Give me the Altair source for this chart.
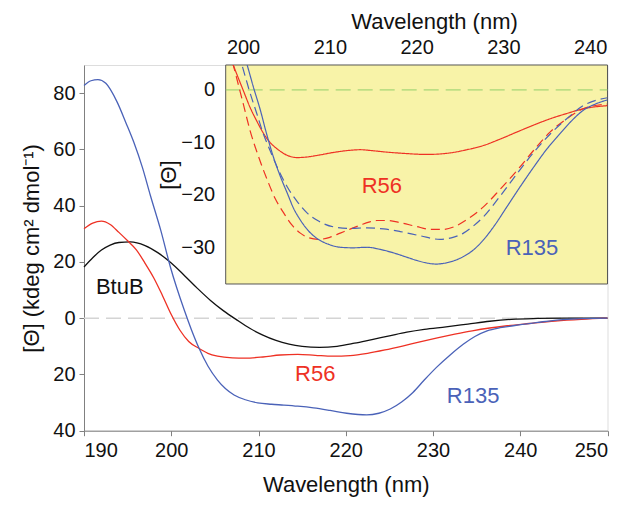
import altair as alt
import pandas as pd

FONT = "Liberation Sans"

# ---------------- main panel data ----------------
btub_wl = [190, 191, 192, 193, 194, 195.3, 197, 198.5, 200, 201.5, 203, 204.5, 206, 207.5, 209,
           210.5, 212, 213.5, 215, 217, 219, 221, 223, 225, 227, 229, 231.5, 234, 236.5, 239,
           242, 245, 250]
btub_val = [18.2, 21.5, 24.2, 26.0, 26.9, 27.1, 25.8, 23.2, 19.6, 15.2, 10.6, 6.3, 2.6, -0.6, -3.6,
            -6.0, -7.9, -9.2, -10.0, -10.4, -10.0, -8.9, -7.6, -6.3, -5.0, -4.0, -3.1, -2.1, -1.1, -0.4,
            -0.1, 0.0, 0.0]

r56_wl = [190, 191, 192, 193, 194, 195, 196, 197, 198, 199, 200, 201, 202, 203.2, 204.2, 205.3,
          207, 208.5, 210.5, 212.5, 214.5, 216.5, 218.5, 220.5, 222.5, 224.5, 226.5, 228.5, 230.5,
          232.5, 234.5, 236.5, 238.5, 241, 244, 247, 250]
r56_val = [31.8, 33.8, 34.5, 33.3, 30.5, 27.5, 24.3, 19.5, 14.3, 8.0, 1.3, -4.3, -8.3, -10.8, -12.5, -13.5,
           -14.1, -14.2, -13.8, -13.1, -12.9, -13.2, -13.5, -13.3, -12.5, -11.3, -9.9, -8.4, -7.0,
           -5.7, -4.5, -3.5, -2.7, -1.9, -1.0, -0.4, 0.0]

r135_wl = [190, 190.8, 191.6, 192.5, 193.8, 194.8, 195.7, 196.7, 197.6, 198.8, 199.9, 201.5, 202.3,
           203.2, 204.2, 205.3, 206.2, 207.2, 208.5, 209.9, 211.5, 212.9, 214.5, 216.3, 218.2, 220.1,
           222.4, 223.8, 225.1, 226.4, 227.7, 229, 230.4, 232, 233.5, 234.8, 236.2, 237.7, 239.2,
           242, 244.9, 250]
r135_val = [82.7, 84.4, 84.8, 83.5, 76.8, 69.5, 62.6, 53.5, 43.7, 31.2, 18.2, 2.8, -4.0,
            -10.8, -17.0, -22.0, -25.0, -27.3, -29.0, -30.1, -30.6, -30.9, -31.3, -31.9, -32.8, -33.8,
            -34.4, -33.8, -32.3, -29.8, -26.4, -22.0, -17.5, -13.0, -9.2, -6.5, -4.5, -3.4, -2.7,
            -1.5, -0.5, 0.0]

main_labels = ["BtuB", "R56", "R135"]
main_label_wl = [194.1, 216.5, 234.6]
main_label_val = [11.0, -19.9, -27.6]

# ---------------- inset data ----------------
i_r56s_wl = [198, 198.9, 200, 200.8, 201.6, 202.4, 203.1, 203.9, 205, 206.2, 207.3, 208.5, 210.5,
             212.4, 213.5, 215, 216.2, 218.5, 221.2, 223.9, 225.8, 227.7, 229.6, 231.6, 233.5,
             235.4, 237.3, 239.2, 242]
i_r56s_val = [8.5, 4.6, 0.0, -3.3, -6.0, -8.4, -10.0, -11.2, -12.4, -12.9, -12.8, -12.5, -11.9,
              -11.5, -11.4, -11.6, -11.8, -12.1, -12.3, -12.0, -11.4, -10.6, -9.4, -8.0, -6.7,
              -5.5, -4.5, -3.6, -3.0]

i_r56d_wl = [198, 198.9, 200, 200.8, 201.8, 202.8, 203.7, 204.7, 205.6, 206.6, 207.6, 208.7, 210,
             211.2, 212.4, 213.5, 214.5, 215.4, 216.7, 218.1, 219.9, 221.6, 223, 224.3, 226, 227.7,
             229.6, 231.6, 233.5, 235.4, 237.3, 239.2, 242]
i_r56d_val = [10.4, 4.6, -2.5, -7.7, -12.8, -17.2, -20.7, -23.5, -25.7, -27.3, -28.2, -28.5, -28.1,
              -27.3, -26.5, -25.8, -25.2, -24.9, -24.9, -25.3, -26.0, -26.6, -26.6, -26.1, -24.5, -22.3,
              -19.0, -15.3, -11.5, -8.0, -5.5, -3.6, -2.7]

i_r135s_wl = [199.5, 200.5, 201.2, 202, 202.7, 203.5, 204.3, 205.1, 205.8, 206.6, 207.5, 208.5,
              209.8, 211.2, 212.7, 214.3, 215.8, 217.4, 218.7, 220, 221.2, 222.2, 223.6, 225, 226.4,
              227.7, 229, 230.4, 232, 233.5, 235, 236.5, 237.8, 239.2, 240.6, 242]
i_r135s_val = [10.3, 4.6, 0.5, -3.9, -8.3, -12.8, -16.5, -19.7, -22.5, -24.8, -26.8, -28.3,
               -29.4, -30.0, -30.1, -30.0, -30.4, -31.1, -31.8, -32.5, -33.0, -33.2, -32.9, -32.1, -30.7,
               -28.6, -25.8, -22.3, -18.3, -14.7, -11.3, -8.4, -6.0, -3.9, -2.7, -1.9]

i_r135d_wl = [199, 199.9, 200.7, 201.6, 202.3, 203.1, 204.1, 205.1, 206.2, 207.4, 208.8, 210.4,
              212.3, 214.3, 216.2, 218.1, 220.4, 222.7, 224, 225.4, 226.5, 227.7, 229.6, 231.6,
              233.5, 235.4, 237.3, 239.2, 242]
i_r135d_val = [9.5, 4.6, 0.0, -4.6, -8.2, -11.5, -15.3, -18.5, -21.2, -23.5, -25.1, -26.1,
               -26.4, -26.3, -26.5, -27.0, -27.8, -28.5, -28.2, -27.3, -26.0, -24.2, -20.3, -15.9,
               -11.9, -8.4, -5.5, -3.0, -1.5]

inset_labels = ["R56", "R135"]
inset_label_wl = [216.0, 233.3]
inset_label_val = [-18.3, -30.1]

# ---------------- styling ----------------
BLACK = "#111111"
RED = "#ee3124"
BLUE = "#4a62b8"
YELLOW = "#f8f3a8"
AXIS_GRAY = "#808080"

W, H = 523.5, 365.7
INSET_X0, INSET_X1 = 141.7, 523.5   # inset pixel span inside main plot
INSET_Y1 = 219.0                    # inset bottom in pixels from top

LABEL_FS = 20
TITLE_FS = 22
NOTE_FS = 22

# ---------------- main layers ----------------
def series_df(name, wl, val, style="solid"):
    return pd.DataFrame({"wl": wl, "val": val, "series": name, "style": style})

main_df = pd.concat([
    series_df("BtuB", btub_wl, btub_val),
    series_df("R56", r56_wl, r56_val),
    series_df("R135", r135_wl, r135_val),
])

color_scale = alt.Scale(domain=["BtuB", "R56", "R135"], range=[BLACK, RED, BLUE])

def xm():
    return alt.X("wl:Q",
                 scale=alt.Scale(domain=[190, 250], nice=False, zero=False),
                 axis=alt.Axis(values=[190, 200, 210, 220, 230, 240, 250], orient="bottom",
                               title="Wavelength (nm)", grid=False, tickSize=5,
                               labelPadding=5, titlePadding=14, labelFontSize=LABEL_FS,
                               titleFontSize=TITLE_FS, domainColor=AXIS_GRAY, tickColor=AXIS_GRAY,
                               labelColor=BLACK, titleColor=BLACK, titleFontWeight="normal",
                               labelFont=FONT, titleFont=FONT))

def ym():
    return alt.Y("val:Q",
                 scale=alt.Scale(domain=[-40, 90], nice=False, zero=False),
                 axis=alt.Axis(values=[-40, -20, 0, 20, 40, 60, 80], orient="left",
                               labelExpr="format(abs(datum.value), 'd')",
                               title="[Θ] (kdeg cm² dmol⁻¹)", grid=False, tickSize=5,
                               labelPadding=4, titlePadding=9, labelFontSize=LABEL_FS,
                               titleFontSize=TITLE_FS, domainColor=AXIS_GRAY, tickColor=AXIS_GRAY,
                               labelColor=BLACK, titleColor=BLACK, titleFontWeight="normal",
                               labelFont=FONT, titleFont=FONT))

main_zero = alt.Chart(pd.DataFrame({"wl": [190], "wl2": [250], "val": [0]})).mark_rule(
    color="#d4d4d4", strokeWidth=1.5, strokeDash=[15, 7]
).encode(x=xm(), x2="wl2:Q", y=ym())

main_lines = alt.Chart(main_df).mark_line(strokeWidth=1.3, interpolate="monotone").encode(
    x=xm(), y=ym(),
    color=alt.Color("series:N", scale=color_scale, legend=None),
)

main_text = alt.Chart(pd.DataFrame({"wl": main_label_wl, "val": main_label_val,
                                    "series": main_labels, "txt": main_labels})).mark_text(
    fontSize=NOTE_FS, font=FONT, align="center", baseline="middle"
).encode(x=xm(), y=ym(), text="txt:N",
         color=alt.Color("series:N", scale=color_scale, legend=None))

main = alt.layer(main_zero, main_lines, main_text)

# ---------------- inset layers ----------------
inset_df = pd.concat([
    series_df("R56", i_r56s_wl, i_r56s_val, "solid"),
    series_df("R56", i_r56d_wl, i_r56d_val, "dashed"),
    series_df("R135", i_r135s_wl, i_r135s_val, "solid"),
    series_df("R135", i_r135d_wl, i_r135d_val, "dashed"),
])

def xi():
    return alt.X("wl:Q",
                 scale=alt.Scale(domain=[198, 242], nice=False, zero=False,
                                 range=[INSET_X0, INSET_X1]),
                 axis=alt.Axis(values=[200, 210, 220, 230, 240], orient="top", offset=-5,
                               domain=False, title="Wavelength (nm)", grid=False, tickSize=5,
                               labelPadding=7, titlePadding=4, labelFontSize=LABEL_FS,
                               titleFontSize=TITLE_FS, tickColor="#555555", titleX=350,
                               labelColor=BLACK, titleColor=BLACK, titleFontWeight="normal",
                               labelFont=FONT, titleFont=FONT))

def yi():
    return alt.Y("val:Q",
                 scale=alt.Scale(domain=[-37, 4.75], nice=False, zero=False,
                                 range=[INSET_Y1, 0]),
                 axis=alt.Axis(values=[-30, -20, -10, 0], orient="left",
                               offset=-(INSET_X0 + 5), domain=False,
                               title="[Θ]", grid=False, tickSize=5,
                               labelPadding=11, titlePadding=0, labelFontSize=LABEL_FS,
                               titleFontSize=TITLE_FS, tickColor="#555555",
                               labelColor=BLACK, titleColor=BLACK, titleFontWeight="normal",
                               labelFont=FONT, titleFont=FONT))

inset_bg = alt.Chart(pd.DataFrame({"wl": [198], "wl2": [242], "val": [-37], "val2": [4.75]})).mark_rect(
    fill=YELLOW, stroke="#555555", strokeWidth=1
).encode(x=xi(), x2="wl2:Q", y=yi(), y2="val2:Q")

inset_zero = alt.Chart(pd.DataFrame({"wl": [198], "wl2": [242], "val": [0]})).mark_rule(
    color="#93cf6b", strokeWidth=1, strokeDash=[15, 7]
).encode(x=xi(), x2="wl2:Q", y=yi())

inset_lines = alt.Chart(inset_df).mark_line(strokeWidth=1.2, interpolate="monotone", clip=True).encode(
    x=xi(), y=yi(),
    color=alt.Color("series:N", scale=color_scale, legend=None),
    strokeDash=alt.StrokeDash("style:N",
                              scale=alt.Scale(domain=["solid", "dashed"], range=[[1, 0], [9, 5]]),
                              legend=None),
    detail="style:N",
)

inset_text = alt.Chart(pd.DataFrame({"wl": inset_label_wl, "val": inset_label_val,
                                     "series": inset_labels, "txt": inset_labels})).mark_text(
    fontSize=NOTE_FS, font=FONT, align="center", baseline="middle"
).encode(x=xi(), y=yi(), text="txt:N",
         color=alt.Color("series:N", scale=color_scale, legend=None))

inset = alt.layer(inset_bg, inset_zero, inset_lines, inset_text)

chart = alt.layer(main, inset).resolve_scale(
    x="independent", y="independent"
).properties(
    width=W, height=H,
    autosize=alt.AutoSizeParams(type="none"),
    padding={"left": 76, "top": 57, "right": 10, "bottom": 72},
).configure_view(
    stroke=AXIS_GRAY, strokeWidth=1
).configure(font=FONT)

chart.save("out.html", embed_options={"renderer": "svg", "actions": False})
